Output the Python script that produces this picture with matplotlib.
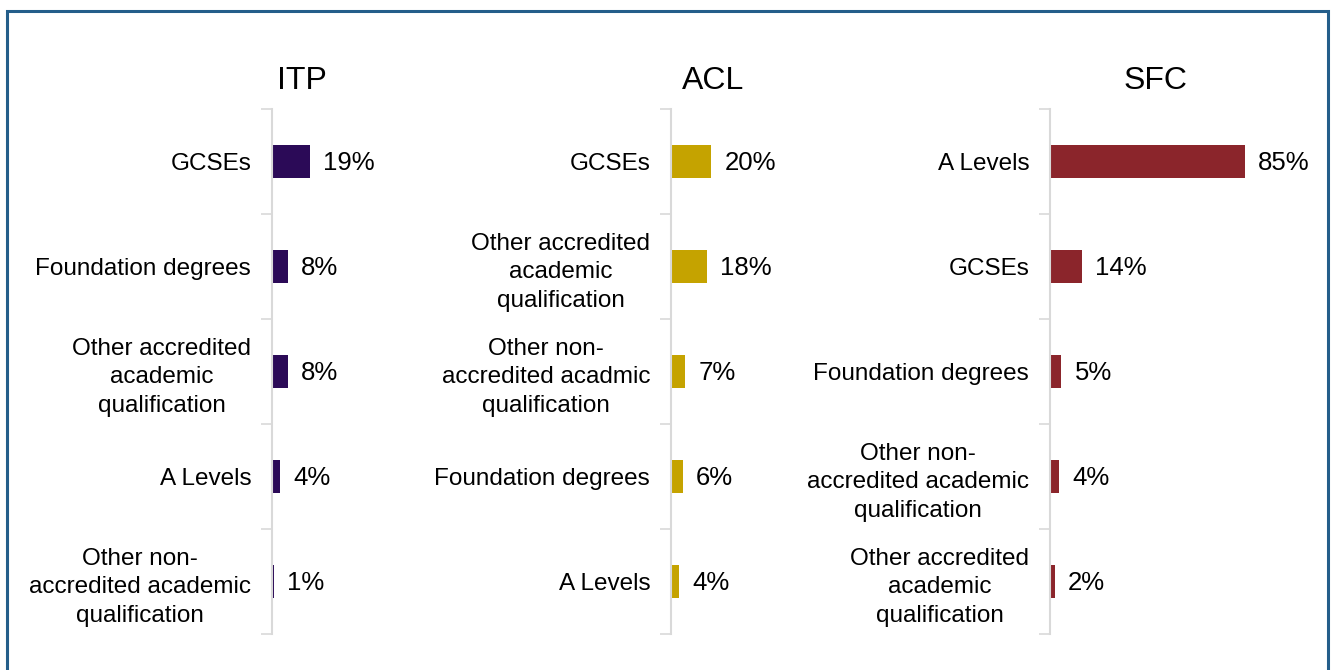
import numpy as np
import matplotlib.pyplot as plt
from matplotlib.patches import Rectangle

plt.rcParams['font.family'] = ['Liberation Sans', 'DejaVu Sans']

# Datos de cada panel
itp_labels = ["GCSEs", "Foundation degrees", "Other accredited\nacademic\nqualification",
              "A Levels", "Other non-\naccredited academic\nqualification"]
itp_values = [19, 8, 8, 4, 1]

acl_labels = ["GCSEs", "Other accredited\nacademic\nqualification",
              "Other non-\naccredited acadmic\nqualification", "Foundation degrees", "A Levels"]
acl_values = [20, 18, 7, 6, 4]

sfc_labels = ["A Levels", "GCSEs", "Foundation degrees",
              "Other non-\naccredited academic\nqualification",
              "Other accredited\nacademic\nqualification"]
sfc_values = [85, 14, 5, 4, 2]

titles = ["ITP", "ACL", "SFC"]
colors = ["#2B0A57", "#C5A300", "#8B252B"]

W, H = 1333, 670
fig = plt.figure(figsize=(W / 100, H / 100), dpi=100)

# Marco exterior
fig.patches.append(Rectangle((7.5 / W, -0.05), (1328 - 7.5) / W, 1.05 - 10.5 / H,
                             transform=fig.transFigure, fill=False,
                             edgecolor="#245E8A", linewidth=2.2))

# (izquierda px, ancho px, escala px por %)
layout = [(272, 200, 2.02), (671, 200, 2.02), (1050, 260, 2.29)]
title_x = [302, 713, 1156]
top, bottom = 109, 634

panels = [(itp_labels, itp_values), (acl_labels, acl_values), (sfc_labels, sfc_values)]

for (labels, values), (x0, wpx, scale), title, c, tx in zip(panels, layout, titles, colors, title_x):
    ax = fig.add_axes([x0 / W, 1 - bottom / H, wpx / W, (bottom - top) / H])
    n = len(values)
    y = np.arange(n)
    ax.barh(y, values, height=0.31, color=c)
    for yi, v in zip(y, values):
        ax.text(v + 13 / scale, yi + 0.01, f"{v}%", va="center", ha="left", fontsize=18.5)
    ax.set_xlim(0, wpx / scale)
    ax.set_ylim(n - 0.5, -0.5)
    ax.set_yticks(y)
    ax.set_yticklabels(labels, fontsize=17.5, multialignment="center", linespacing=1.38)
    ax.set_yticks(np.arange(-0.5, n, 1), minor=True)
    ax.tick_params(axis="y", which="major", length=0, pad=15)
    ax.tick_params(axis="y", which="minor", length=8, color="#D9D9D9", width=1.2)
    ax.set_xticks([])
    for s in ["top", "right", "bottom"]:
        ax.spines[s].set_visible(False)
    ax.spines["left"].set_color("#D9D9D9")
    ax.spines["left"].set_linewidth(1.5)
    fig.text(tx / W, 1 - 89 / H, title, ha="center", va="baseline", fontsize=23)

fig.savefig("out.png", dpi=100)
